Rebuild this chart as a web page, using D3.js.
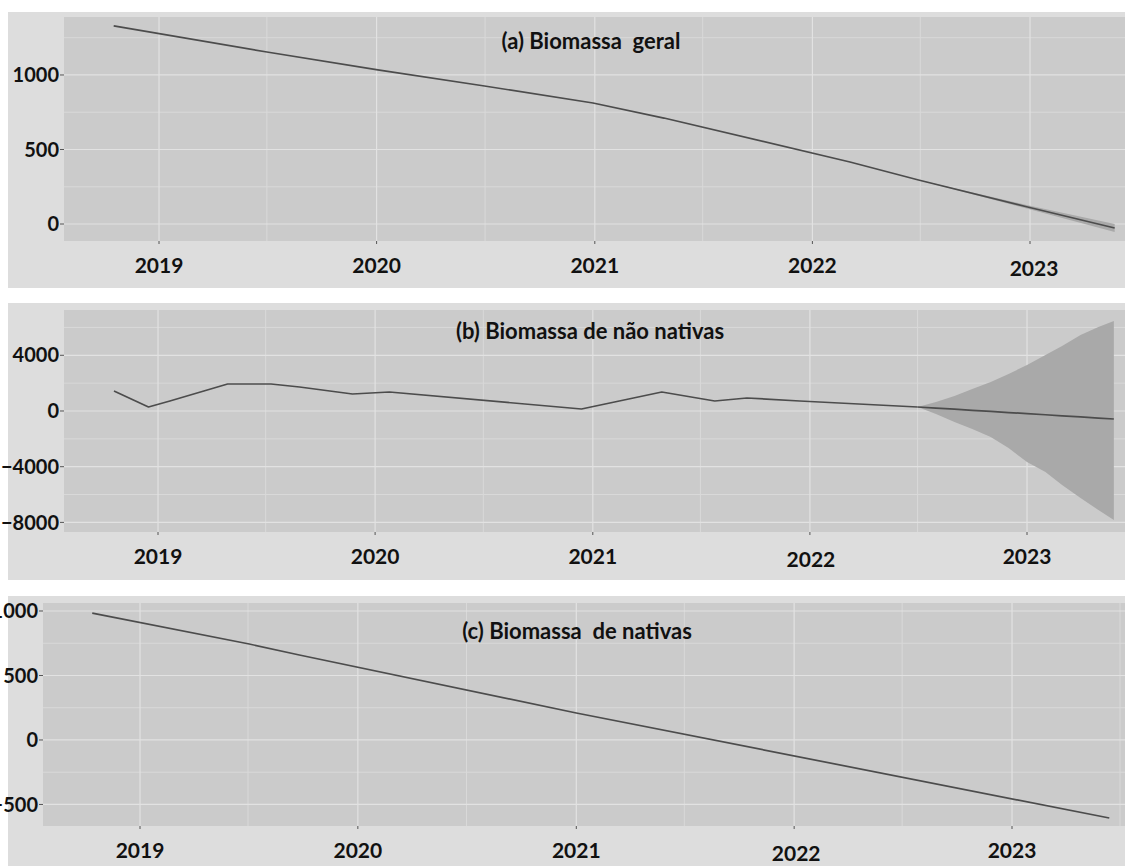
<!DOCTYPE html>
<html>
<head>
<meta charset="utf-8">
<script src="https://cdn.jsdelivr.net/npm/d3@7"></script>
<style>
  html, body { margin: 0; padding: 0; background: #ffffff; }
  svg { display: block; }
  text { font-family: Lato, "Open Sans", sans-serif; font-weight: 700; fill: #111; }
</style>
</head>
<body>
<svg id="chart" width="1125" height="866"></svg>
<script>
// ---- data -------------------------------------------------------------
const yearTicks = [2019, 2020, 2021, 2022, 2023];

// (a) total biomass
const datesGeral  = ["2018-10-17", "2019-07-01", "2020-01-03", "2020-06-30", "2020-12-29",
                     "2021-04-27", "2022-03-05", "2022-06-28", "2022-12-28", "2023-05-23"];
const biomassaGeral = [1329, 1154, 1034, 926, 812, 711, 416, 295, 114, -27];
const bandGeralDates = ["2022-06-28", "2022-12-28", "2023-05-23"];
const bandGeralLow   = [295, 102, -54];
const bandGeralHigh  = [295, 126, 0];
const ticksGeral = [0, 500, 1000];

// (b) non-native biomass
const datesNaoNativas = ["2018-10-19", "2018-12-16", "2019-01-21", "2019-04-28", "2019-07-10",
                         "2019-08-27", "2019-11-24", "2020-01-25", "2020-12-13", "2021-04-27",
                         "2021-07-25", "2021-09-17", "2021-12-15", "2022-07-01"];
const biomassaNaoNativas = [1436, 287, 718, 1939, 1939, 1723, 1221, 1364, 144, 1364, 718, 934, 718, 287];
const previsaoDates = ["2022-07-01", "2022-08-01", "2022-09-01", "2022-10-01", "2022-11-01", "2022-12-01",
                       "2023-01-01", "2023-02-01", "2023-03-01", "2023-04-01", "2023-05-01", "2023-05-27"];
const previsaoMedia = [287, 208, 128, 49, -31, -110, -189, -269, -348, -428, -507, -575];
const previsaoLow   = [287, -215, -790, -1293, -1867, -2657, -3662, -4380, -5314, -6248, -7110, -7828];
const previsaoHigh  = [287, 646, 1077, 1580, 2083, 2657, 3303, 4022, 4668, 5458, 6032, 6463];
const ticksNaoNativas = [-8000, -4000, 0, 4000];

// (c) native biomass
const datesNativas = ["2018-10-13", "2019-07-03", "2019-09-25", "2021-01-01", "2023-06-13"];
const biomassaNativas = [984, 744, 659, 209, -605];
const ticksNativas = [-500, 0, 500, 1000];

const titles = ["(a) Biomassa\u00a0 geral", "(b) Biomassa de não nativas", "(c) Biomassa\u00a0 de nativas"];

// ---- layout -----------------------------------------------------------
const parse = d3.timeParse("%Y-%m-%d");
const W = 1125;
const svg = d3.select("#chart");
svg.append("rect").attr("width", W).attr("height", 866).attr("fill", "#ffffff");

const panels = [
  { title: titles[0], box: [8, 12, 288], plot: [64, 17, 241], x2019: 159, x2023: 1030,
    yDomain: [-114, 1389], ticks: ticksGeral, minor: [250, 750, 1250],
    dates: datesGeral, values: biomassaGeral,
    band: { dates: bandGeralDates, low: bandGeralLow, high: bandGeralHigh }, forecast: null,
    titleXY: [591, 41], labelY: 265, labelShift: { 2023: [4, 3] } },
  { title: titles[1], box: [8, 303, 580], plot: [64, 310, 532], x2019: 158, x2023: 1027,
    yDomain: [-8690, 7253], ticks: ticksNaoNativas, minor: [-6000, -2000, 2000, 6000],
    dates: datesNaoNativas, values: biomassaNaoNativas,
    band: { dates: previsaoDates, low: previsaoLow, high: previsaoHigh },
    forecast: { dates: previsaoDates, values: previsaoMedia },
    titleXY: [590, 331], labelY: 556, labelShift: { 2022: [1, 3] } },
  { title: titles[2], box: [8, 596, 866], plot: [43, 603, 826], x2019: 140, x2023: 1012,
    yDomain: [-667, 1062], ticks: ticksNativas, minor: [-250, 250, 750],
    dates: datesNativas, values: biomassaNativas, band: null, forecast: null,
    titleXY: [577, 631], labelY: 850, labelShift: { 2022: [2, 3] } }
];

panels.forEach((p, i) => {
  const g = svg.append("g");
  const [bx, by0, by1] = p.box;
  const [px, py0, py1] = p.plot;

  // outer background
  g.append("rect").attr("x", bx).attr("y", by0).attr("width", W - bx).attr("height", by1 - by0)
    .attr("fill", "#dddddd");

  const clipId = "clip" + i;
  svg.append("clipPath").attr("id", clipId)
    .append("rect").attr("x", px).attr("y", py0).attr("width", W - px).attr("height", py1 - py0);

  const x = d3.scaleTime()
    .domain([new Date(2019, 0, 1), new Date(2023, 0, 1)])
    .range([p.x2019, p.x2023]);
  const y = d3.scaleLinear().domain(p.yDomain).range([py1, py0]);

  const plot = g.append("g").attr("clip-path", `url(#${clipId})`);
  plot.append("rect").attr("x", px).attr("y", py0).attr("width", W - px).attr("height", py1 - py0)
    .attr("fill", "#cbcbcb");

  // grid lines
  const majorX = yearTicks.map(yr => new Date(yr, 0, 1));
  const minorX = d3.range(2018, 2024).map(yr => new Date(yr, 6, 1));
  plot.selectAll(".gmy").data(p.minor).join("line")
    .attr("x1", px).attr("x2", W).attr("y1", d => y(d)).attr("y2", d => y(d))
    .attr("stroke", "#d9d9d9").attr("stroke-width", 1);
  plot.selectAll(".gmx").data(minorX).join("line")
    .attr("x1", d => x(d)).attr("x2", d => x(d)).attr("y1", py0).attr("y2", py1)
    .attr("stroke", "#d9d9d9").attr("stroke-width", 1);
  plot.selectAll(".gy").data(p.ticks).join("line")
    .attr("x1", px).attr("x2", W).attr("y1", d => y(d)).attr("y2", d => y(d))
    .attr("stroke", "#e2e2e2").attr("stroke-width", 1.2);
  plot.selectAll(".gx").data(majorX).join("line")
    .attr("x1", d => x(d)).attr("x2", d => x(d)).attr("y1", py0).attr("y2", py1)
    .attr("stroke", "#e2e2e2").attr("stroke-width", 1.2);

  // forecast band
  if (p.band) {
    const bandData = p.band.dates.map((d, k) => ({ d: parse(d), lo: p.band.low[k], hi: p.band.high[k] }));
    plot.append("path").datum(bandData)
      .attr("d", d3.area().x(d => x(d.d)).y0(d => y(d.lo)).y1(d => y(d.hi)))
      .attr("fill", "#a9a9a9");
  }

  const line = d3.line().x(d => x(d.d)).y(d => y(d.v));
  const series = p.dates.map((d, k) => ({ d: parse(d), v: p.values[k] }));
  plot.append("path").datum(series).attr("d", line)
    .attr("fill", "none").attr("stroke", "#4c4c4c").attr("stroke-width", 1.7)
    .attr("stroke-linejoin", "round");
  if (p.forecast) {
    const fc = p.forecast.dates.map((d, k) => ({ d: parse(d), v: p.forecast.values[k] }));
    plot.append("path").datum(fc).attr("d", line)
      .attr("fill", "none").attr("stroke", "#4c4c4c").attr("stroke-width", 1.7);
  }

  // y axis
  const yAxis = g.append("g");
  yAxis.selectAll("line").data(p.ticks).join("line")
    .attr("x1", px - 4).attr("x2", px).attr("y1", d => y(d)).attr("y2", d => y(d))
    .attr("stroke", "#555").attr("stroke-width", 1);
  yAxis.selectAll("text").data(p.ticks).join("text")
    .attr("x", px - 5).attr("y", d => y(d)).attr("dy", "0.36em")
    .attr("text-anchor", "end").attr("font-size", 20)
    .text(d => d3.format("d")(d));

  // x axis
  const xAxis = g.append("g");
  xAxis.selectAll("line").data(majorX).join("line")
    .attr("x1", d => x(d)).attr("x2", d => x(d)).attr("y1", py1).attr("y2", py1 + 3)
    .attr("stroke", "#555").attr("stroke-width", 1);
  xAxis.selectAll("text").data(yearTicks).join("text")
    .attr("x", d => x(new Date(d, 0, 1)) + (p.labelShift[d] ? p.labelShift[d][0] : 0))
    .attr("y", d => p.labelY + (p.labelShift[d] ? p.labelShift[d][1] : 0))
    .attr("dy", "0.36em")
    .attr("text-anchor", "middle").attr("font-size", 21)
    .text(d => d);

  // panel title
  g.append("text").attr("x", p.titleXY[0]).attr("y", p.titleXY[1]).attr("dy", "0.36em")
    .attr("text-anchor", "middle").attr("font-size", 22)
    .text(p.title);
});
</script>
</body>
</html>
